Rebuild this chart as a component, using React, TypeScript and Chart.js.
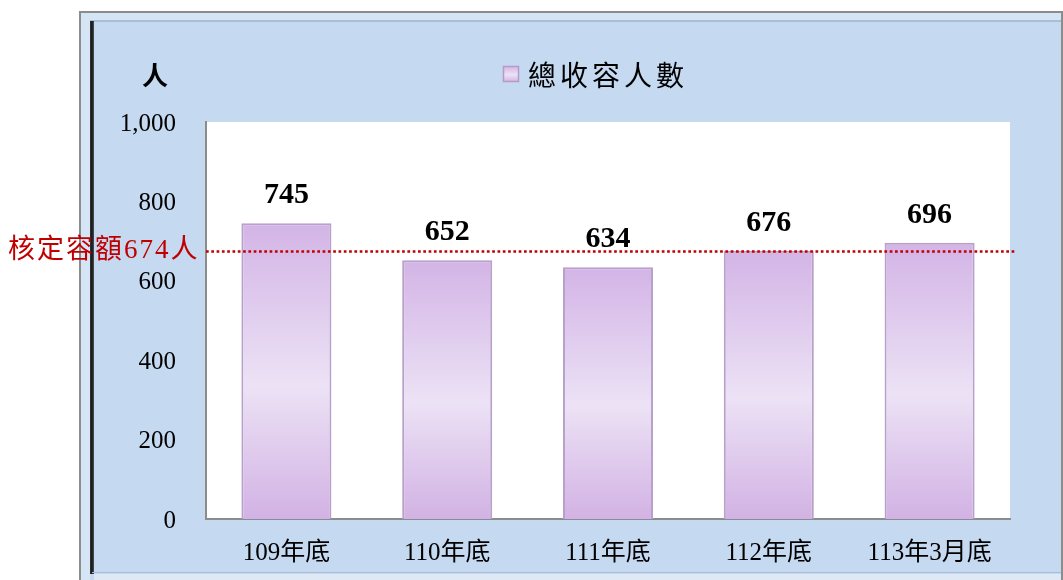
import React, { useEffect, useRef } from "react";
import { Chart, registerables } from "chart.js";

Chart.register(...registerables);

const categories = ["109年底", "110年底", "111年底", "112年底", "113年3月底"];
const totalInmates = [745, 652, 634, 676, 696];
const seriesName = "總收容人數";
const capacity = 674;
const capacityLabel = "核定容額674人";
const yTicks = [0, 200, 400, 600, 800, 1000];
const yUnit = "人";

const W = 1063;
const H = 580;
const SERIF = "'Liberation Serif', 'Noto Sans CJK TC', serif";
const CJK = "'Liberation Serif', 'Noto Sans CJK TC', sans-serif";

function barGradient(ctx: CanvasRenderingContext2D, top: number, bottom: number) {
  const g = ctx.createLinearGradient(0, top, 0, bottom);
  g.addColorStop(0, "#d3b4e6");
  g.addColorStop(0.55, "#ece2f5");
  g.addColorStop(1, "#d2b2e4");
  return g;
}

const framePlugin = {
  id: "frame",
  beforeDraw(chart: any) {
    const { ctx, chartArea } = chart;
    ctx.save();
    ctx.fillStyle = "#ffffff";
    ctx.fillRect(0, 0, W, H);
    // outer box
    ctx.fillStyle = "#c5d9f1";
    ctx.fillRect(79, 11, W - 79, H - 11);
    // highlight band
    ctx.fillStyle = "#d6e5f6";
    ctx.fillRect(81, 13, W - 81, 7);
    ctx.fillRect(81, 13, 9, H - 13);
    // outer gray border
    ctx.fillStyle = "#8c8c8c";
    ctx.fillRect(79, 11, W - 79, 2);
    ctx.fillRect(79, 11, 2, H - 11);
    ctx.fillRect(W - 2, 11, 2, H - 11);
    // inner top line
    ctx.fillStyle = "#a9bdd6";
    ctx.fillRect(90, 20, W - 92, 2);
    // inner dark left line
    const lg = ctx.createLinearGradient(89, 0, 95, 0);
    lg.addColorStop(0, "#444444");
    lg.addColorStop(0.5, "#161616");
    lg.addColorStop(1, "#6b7380");
    ctx.fillStyle = lg;
    ctx.fillRect(90, 21, 4, 553);
    // inner bottom line
    ctx.fillStyle = "#a9bdd6";
    ctx.fillRect(92, 572, W - 94, 1);
    ctx.fillStyle = "#dfe9f5";
    ctx.fillRect(94, 574, W - 96, 6);
    // plot area
    ctx.fillStyle = "#ffffff";
    ctx.fillRect(chartArea.left, chartArea.top, chartArea.right - chartArea.left, chartArea.bottom - chartArea.top);

    // unit title
    ctx.fillStyle = "#000000";
    ctx.font = "bold 26px 'Noto Sans CJK TC', sans-serif";
    ctx.textAlign = "center";
    ctx.textBaseline = "middle";
    ctx.fillText(yUnit, 155, 75);

    // legend
    const lx = 503, ly = 66, ls = 16;
    ctx.fillStyle = barGradient(ctx, ly, ly + ls);
    ctx.fillRect(lx, ly, ls, ls);
    ctx.strokeStyle = "#b49cc8";
    ctx.lineWidth = 1.5;
    ctx.strokeRect(lx + 0.5, ly + 0.5, ls - 1, ls - 1);
    ctx.fillStyle = "#000000";
    ctx.font = "28px 'Noto Sans CJK TC', sans-serif";
    (ctx as any).letterSpacing = "4px";
    ctx.textAlign = "left";
    ctx.fillText(seriesName, 528, 75);
    (ctx as any).letterSpacing = "0px";
    ctx.restore();
  },
  afterDatasetsDraw(chart: any) {
    const { ctx, chartArea } = chart;
    const yScale = chart.scales.y;
    ctx.save();
    // value labels
    const meta = chart.getDatasetMeta(0);
    ctx.fillStyle = "#000000";
    ctx.font = `bold 30px ${SERIF}`;
    ctx.textAlign = "center";
    ctx.textBaseline = "alphabetic";
    meta.data.forEach((bar: any, i: number) => {
      ctx.fillText(String(totalInmates[i]), bar.x, bar.y - 20);
    });
    // capacity line
    const y = Math.round(yScale.getPixelForValue(capacity)) + 0.5;
    ctx.strokeStyle = "#c00000";
    ctx.lineWidth = 2.5;
    ctx.setLineDash([2.7, 2.6]);
    ctx.beginPath();
    ctx.moveTo(chartArea.left, y);
    ctx.lineTo(chartArea.right + 6, y);
    ctx.stroke();
    ctx.setLineDash([]);
    ctx.fillStyle = "#c00000";
    ctx.font = `27px ${CJK}`;
    (ctx as any).letterSpacing = "2px";
    ctx.textAlign = "left";
    ctx.textBaseline = "middle";
    ctx.fillText(capacityLabel, 8, y - 1);
    (ctx as any).letterSpacing = "0px";
    ctx.restore();
  },
};

export default function App() {
  const ref = useRef<HTMLCanvasElement | null>(null);
  useEffect(() => {
    if (!ref.current) return;
    const chart = new Chart(ref.current, {
      type: "bar",
      data: {
        labels: categories,
        datasets: [
          {
            label: seriesName,
            data: totalInmates,
            backgroundColor: (c: any) => {
              const chart = c.chart;
              if (!chart.chartArea || c.parsed == null) return "#dcc6ec";
              const ys = chart.scales.y;
              const top = ys.getPixelForValue(c.parsed.y);
              const bottom = ys.getPixelForValue(0);
              return barGradient(chart.ctx, top, bottom);
            },
            borderColor: "#b8a0cc",
            borderWidth: { left: 2, right: 2, top: 2, bottom: 0 },
            borderSkipped: "bottom",
            barPercentage: 0.56,
            categoryPercentage: 1,
          },
        ],
      },
      options: {
        responsive: false,
        animation: false,
        devicePixelRatio: 1,
        layout: { padding: { top: 122, right: 53, bottom: 0, left: 0 } },
        plugins: {
          legend: { display: false },
          tooltip: { enabled: false },
          title: { display: false },
        },
        scales: {
          x: {
            grid: { display: false, drawTicks: false },
            border: { display: true, color: "#8c8c8c", width: 2 },
            ticks: {
              color: "#000000",
              font: { family: SERIF, size: 25 },
              padding: 19,
              maxRotation: 0,
              autoSkip: false,
            },
            afterFit: (s: any) => {
              s.height = 61;
            },
          },
          y: {
            min: 0,
            max: 1000,
            grid: { display: false, drawTicks: false },
            border: { display: true, color: "#8c8c8c", width: 2 },
            afterBuildTicks: (s: any) => {
              s.ticks = yTicks.map((v) => ({ value: v }));
            },
            ticks: {
              color: "#000000",
              font: { family: SERIF, size: 25 },
              padding: 30,
              labelOffset: 2,
              callback: (v: any) => Number(v).toLocaleString("en-US"),
            },
            afterFit: (s: any) => {
              s.width = 206;
            },
          },
        },
      },
      plugins: [framePlugin],
    });
    return () => chart.destroy();
  }, []);
  return (
    <div style={{ position: "fixed", left: 0, top: 0, width: W, height: H }}>
      <canvas ref={ref} width={W} height={H} style={{ display: "block" }} />
    </div>
  );
}
